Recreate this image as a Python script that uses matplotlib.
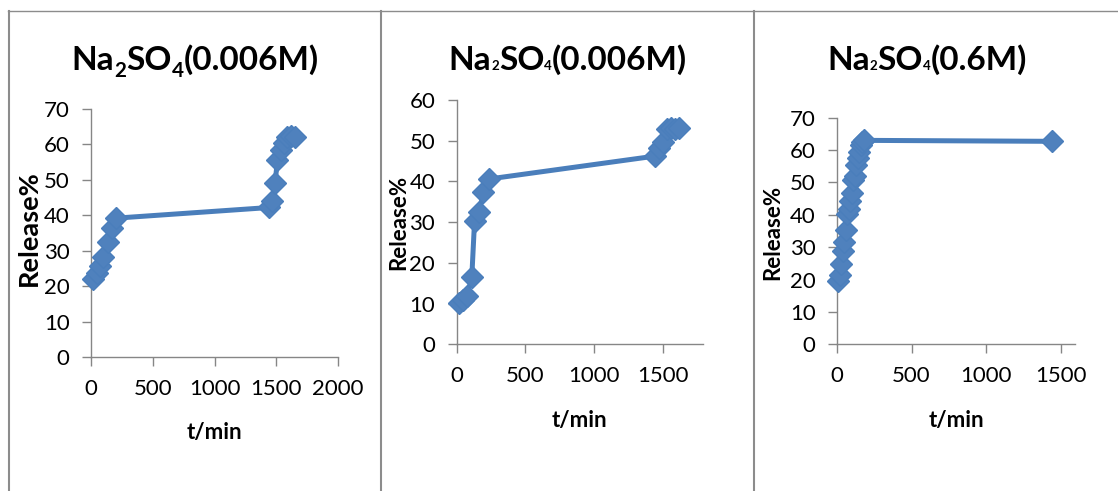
import matplotlib
matplotlib.use("Agg")
import matplotlib.pyplot as plt
from matplotlib.lines import Line2D

# ---------------- data ----------------
titles = ["Na2SO4(0.006M)", "Na2SO4(0.006M)", "Na2SO4(0.6M)"]

t1 = [15, 45, 75, 100, 135, 170, 205, 1445, 1465, 1490, 1510, 1535, 1560, 1590, 1620, 1650]
r1 = [22.0, 23.8, 25.8, 28.2, 32.6, 36.3, 39.2, 42.2, 44.0, 49.1, 55.6, 58.3, 60.3, 62.2, 62.3, 62.0]

t2 = [15, 45, 75, 110, 130, 165, 195, 235, 1440, 1470, 1500, 1530, 1560, 1590, 1620]
r2 = [10.2, 10.9, 11.8, 16.6, 30.3, 32.6, 37.5, 40.6, 46.2, 48.2, 49.8, 53.0, 53.2, 53.0, 53.1]

t3 = [10, 20, 30, 40, 50, 60, 70, 80, 90, 100, 110, 120, 130, 140, 150, 160, 170, 180, 1440]
r3 = [19.5, 21.5, 24.8, 28.8, 31.5, 35.3, 40.2, 41.8, 44.3, 46.6, 50.8, 52.0, 55.5, 57.5, 59.5, 61.5, 62.5, 63.0, 62.7]

xticks1 = [0, 500, 1000, 1500, 2000]
xticks23 = [0, 500, 1000, 1500]
yticks70 = [0, 10, 20, 30, 40, 50, 60, 70]
yticks60 = [0, 10, 20, 30, 40, 50, 60]

# ---------------- style ----------------
FONT = ["Lato", "DejaVu Sans"]
plt.rcParams["font.family"] = FONT
W, H = 1118, 491
fig = plt.figure(figsize=(W / 100, H / 100), dpi=100)
fig.patch.set_facecolor("white")

LINE_C = "#4A7EBB"
MARK_C = "#4F81BD"
AX_C = "#868686"


def px_rect(x0, ytop, x1, ybot):
    return [x0 / W, (H - ybot) / H, (x1 - x0) / W, (ybot - ytop) / H]


axes_spec = [
    (px_rect(91, 109, 338, 357), t1, r1, (0, 2000), xticks1, (0, 70), yticks70),
    (px_rect(456.7, 100, 703.3, 344.3), t2, r2, (0, 1795), xticks23, (0, 60), yticks60),
    (px_rect(837, 117.7, 1075, 344.3), t3, r3, (0, 1595), xticks23, (0, 70), yticks70),
]

for rect, tx, ry, xl, xt, yl, yt in axes_spec:
    ax = fig.add_axes(rect)
    ax.plot(tx, ry, color=LINE_C, lw=3.6, marker="D", ms=11,
            markerfacecolor=MARK_C, markeredgecolor=LINE_C, markeredgewidth=1,
            clip_on=False, zorder=3)
    ax.set_xlim(*xl)
    ax.set_ylim(*yl)
    ax.set_xticks(xt)
    ax.set_yticks(yt)
    for s in ["top", "right"]:
        ax.spines[s].set_visible(False)
    for s in ["left", "bottom"]:
        ax.spines[s].set_color(AX_C)
        ax.spines[s].set_linewidth(1.0)
    ax.tick_params(axis="both", direction="out", length=6.5, width=1.0,
                   color=AX_C, labelsize=16, labelcolor="black")
    ax.tick_params(axis="y", pad=9)
    ax.tick_params(axis="x", pad=9)
    ax.set_facecolor("none")

# ---------------- axis labels ----------------
def ftxt(x, y, s, **kw):
    fig.text(x / W, 1 - y / H, s, **kw)

ftxt(29, 228, "Release%", rotation=90, ha="center", va="center",
     fontsize=19.5, fontweight="bold")
ftxt(399, 222, "Release%", rotation=90, ha="center", va="center",
     fontsize=16, fontweight="bold")
ftxt(773, 232, "Release%", rotation=90, ha="center", va="center",
     fontsize=16, fontweight="bold")

ftxt(214, 432, "t/min", ha="center", va="center", fontsize=16, fontweight="bold")
ftxt(579, 420, "t/min", ha="center", va="center", fontsize=16, fontweight="bold")
ftxt(956, 420, "t/min", ha="center", va="center", fontsize=16, fontweight="bold")

# ---------------- titles with subscripts ----------------
renderer = fig.canvas.get_renderer()


def rich_title(xc, baseline, pieces, size):
    """pieces: list of (text, scale, dy_px)"""
    objs = []
    for s, sc, dy in pieces:
        t = fig.text(0, 0, s, fontsize=size * sc, fontweight="bold",
                     ha="left", va="baseline")
        objs.append((t, dy))
    widths = [t.get_window_extent(renderer).width for t, _ in objs]
    total = sum(widths)
    x = xc - total / 2
    for (t, dy), w in zip(objs, widths):
        t.set_position((x / W, 1 - (baseline + dy) / H))
        x += w


rich_title(195, 70, [("Na", 1, 0), ("2", 0.62, 7), ("SO", 1, 0), ("4", 0.62, 7),
                     ("(0.006M)", 1, 0)], 24)
rich_title(568, 70, [("Na", 1, 0), ("2", 0.4, 0), ("SO", 1, 0), ("4", 0.4, 0),
                     ("(0.006M)", 1, 0)], 24)
rich_title(927, 70, [("Na", 1, 0), ("2", 0.4, 0), ("SO", 1, 0), ("4", 0.4, 0),
                     ("(0.6M)", 1, 0)], 24)

# ---------------- table borders ----------------
BC = "#8C8C8C"
fig.add_artist(Line2D([8 / W, 1], [1 - 10.5 / H, 1 - 10.5 / H], color=BC, lw=1.0,
                      transform=fig.transFigure))
for xv in [8.5, 380.7, 754]:
    fig.add_artist(Line2D([xv / W, xv / W], [0, 1 - 10.5 / H], color=BC, lw=1.5,
                          transform=fig.transFigure))

fig.savefig("out.png", dpi=100, facecolor="white")
